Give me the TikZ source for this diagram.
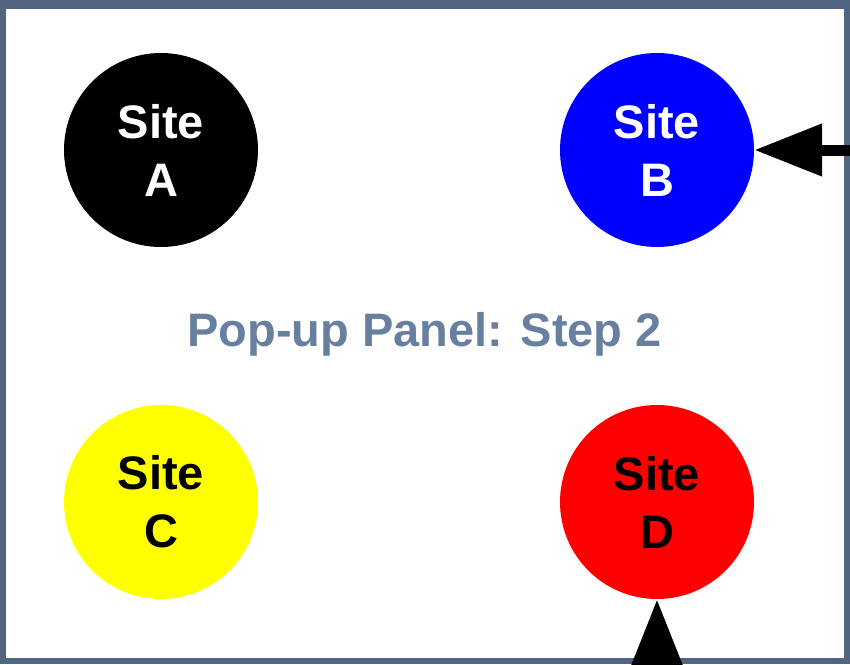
\documentclass[tikz,border=0pt]{standalone}
\usepackage{fontspec}
\setmainfont{Liberation Sans}
\usetikzlibrary{arrows.meta}

\definecolor{panelframe}{RGB}{80,101,127}
\definecolor{paneltitle}{RGB}{104,128,160}
\definecolor{siteblue}{RGB}{0,0,255}
\definecolor{siteyellow}{RGB}{255,255,0}
\definecolor{sitered}{RGB}{255,0,0}

\tikzset{
    site/.style={circle, minimum size=194pt, inner sep=0pt, align=center,
        font=\fontsize{47}{58}\selectfont\bfseries},
    pointer/.style={line width=11pt, -{Triangle[length=68pt,width=50pt]}}
}

\begin{document}
\begin{tikzpicture}[x=1pt, y=-1pt]
    \useasboundingbox (0,0) rectangle (850,664);
    \clip (0,0) rectangle (850,664);
    \draw[line width=6pt, color=panelframe] (3,5) rectangle (847,661);
    \fill[panelframe] (0,0) rectangle (850,9);
    \node[site, fill=black, text=white]       (siteA) at (161,150) {Site\\A};
    \node[site, fill=siteblue, text=white]    (siteB) at (657,150) {Site\\B};
    \node[site, fill=siteyellow, text=black]  (siteC) at (161,502) {Site\\C};
    \node[site, fill=sitered, text=black]     (siteD) at (657,502) {Site\\D};
    \node[font=\fontsize{47}{58}\selectfont\bfseries, color=paneltitle] (title) at (424.5,334) {Pop-up Panel: Step 2};
    \coordinate (fromright) at (900,150);
    \coordinate (frombelow) at (657,720);
    \draw[pointer] (fromright) -- (siteB);
    \draw[pointer] (frombelow) -- (siteD);
\end{tikzpicture}
\end{document}
